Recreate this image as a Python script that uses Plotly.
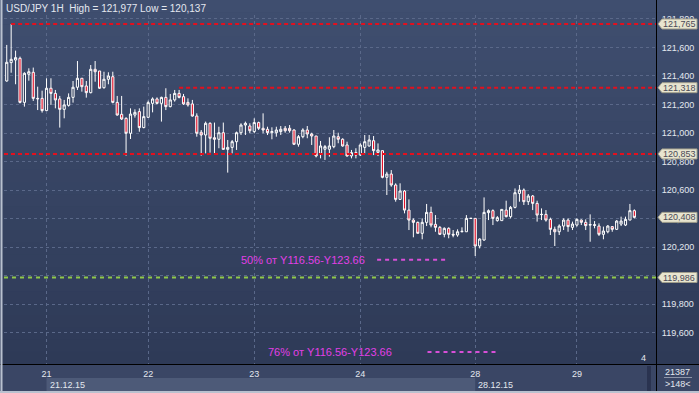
import plotly.graph_objects as go

# ---------------- data (USD/JPY 1H candles) ----------------
open_ = [121.220, 121.365, 121.494, 121.512, 121.524, 121.215, 121.412, 121.426, 121.243, 121.243,
         121.157, 121.314, 121.278, 121.239, 121.166, 121.194, 121.250, 121.321, 121.384, 121.330,
         121.283, 121.447, 121.435, 121.318, 121.377, 121.395, 121.215, 121.131, 121.103, 120.998,
         121.126, 121.150, 121.038, 121.110, 121.208, 121.239, 121.208, 121.250, 121.185, 121.232,
         121.278, 121.255, 121.215, 121.204, 121.119, 121.005, 120.986, 121.068, 120.967, 120.956,
         121.002, 120.885, 120.899, 120.939, 121.002, 121.056, 121.049, 121.010, 121.073, 121.033,
         121.026, 121.002, 121.002, 121.010, 121.033, 121.033, 121.021, 120.921, 120.974, 121.021,
         120.993, 120.979, 120.857, 120.886, 120.886, 120.904, 120.974, 120.956, 120.916, 120.839,
         120.862, 120.846, 120.899, 120.909, 120.946, 120.864, 120.876, 120.689, 120.712, 120.635,
         120.534, 120.593, 120.459, 120.389, 120.373, 120.296, 120.373, 120.443, 120.359, 120.338,
         120.289, 120.331, 120.289, 120.284, 120.307, 120.307, 120.401, 120.401, 120.207, 120.249,
         120.441, 120.455, 120.385, 120.385, 120.459, 120.413, 120.478, 120.576, 120.600, 120.518,
         120.558, 120.506, 120.427, 120.429, 120.394, 120.324, 120.307, 120.347, 120.389, 120.338,
         120.354, 120.389, 120.373, 120.354, 120.357, 120.347, 120.289, 120.307, 120.343, 120.324,
         120.361, 120.354, 120.389, 120.455]
high = [121.380, 121.618, 121.765, 121.578, 121.536, 121.426, 121.454, 121.459, 121.325, 121.297,
        121.384, 121.384, 121.302, 121.260, 121.232, 121.278, 121.365, 121.505, 121.384, 121.365,
        121.477, 121.505, 121.435, 121.430, 121.426, 121.430, 121.260, 121.260, 121.110, 121.173,
        121.166, 121.173, 121.185, 121.227, 121.250, 121.250, 121.255, 121.314, 121.274, 121.302,
        121.302, 121.274, 121.243, 121.232, 121.138, 121.021, 121.080, 121.075, 121.073, 121.044,
        121.073, 120.951, 120.951, 121.010, 121.068, 121.080, 121.068, 121.103, 121.080, 121.138,
        121.044, 121.040, 121.044, 121.049, 121.049, 121.056, 121.026, 120.986, 121.033, 121.049,
        121.002, 120.979, 120.944, 120.916, 120.970, 121.021, 121.002, 120.963, 120.939, 120.881,
        120.893, 120.928, 120.986, 120.986, 120.979, 120.927, 120.876, 120.728, 120.740, 120.647,
        120.647, 120.600, 120.534, 120.401, 120.378, 120.401, 120.502, 120.483, 120.424, 120.347,
        120.338, 120.338, 120.319, 120.324, 120.338, 120.424, 120.403, 120.401, 120.261, 120.548,
        120.464, 120.464, 120.417, 120.464, 120.525, 120.488, 120.611, 120.635, 120.611, 120.572,
        120.565, 120.525, 120.471, 120.459, 120.406, 120.343, 120.359, 120.401, 120.401, 120.378,
        120.401, 120.394, 120.394, 120.429, 120.382, 120.366, 120.343, 120.354, 120.347, 120.389,
        120.413, 120.413, 120.502, 120.464]
low = [121.210, 121.360, 121.423, 121.342, 121.208, 121.185, 121.367, 121.225, 121.161, 121.143,
       121.157, 121.197, 121.173, 121.038, 121.103, 121.185, 121.213, 121.302, 121.290, 121.248,
       121.278, 121.360, 121.309, 121.311, 121.342, 121.208, 121.122, 121.091, 120.841, 120.958,
       121.108, 121.009, 121.033, 121.108, 121.145, 121.201, 121.080, 121.161, 121.180, 121.220,
       121.243, 121.197, 121.185, 121.115, 120.974, 120.841, 120.857, 120.862, 120.857, 120.893,
       120.881, 120.722, 120.857, 120.881, 120.986, 120.986, 120.998, 120.998, 121.021, 120.998,
       120.986, 120.956, 120.974, 120.986, 121.002, 121.002, 120.916, 120.904, 120.963, 120.963,
       120.916, 120.829, 120.822, 120.811, 120.834, 120.893, 120.928, 120.904, 120.834, 120.822,
       120.822, 120.839, 120.857, 120.904, 120.845, 120.838, 120.682, 120.565, 120.623, 120.518,
       120.530, 120.436, 120.319, 120.268, 120.296, 120.254, 120.347, 120.338, 120.307, 120.284,
       120.268, 120.261, 120.268, 120.272, 120.303, 120.307, 120.399, 120.137, 120.190, 120.244,
       120.389, 120.354, 120.378, 120.385, 120.408, 120.401, 120.471, 120.518, 120.495, 120.495,
       120.459, 120.378, 120.389, 120.378, 120.284, 120.207, 120.284, 120.319, 120.307, 120.319,
       120.343, 120.354, 120.319, 120.237, 120.331, 120.277, 120.254, 120.296, 120.307, 120.319,
       120.347, 120.347, 120.389, 120.401]
close = [121.372, 121.496, 121.517, 121.529, 121.215, 121.419, 121.430, 121.243, 121.240, 121.157,
         121.314, 121.278, 121.232, 121.166, 121.197, 121.250, 121.321, 121.384, 121.325, 121.283,
         121.447, 121.430, 121.314, 121.377, 121.400, 121.215, 121.126, 121.098, 120.998, 121.133,
         121.145, 121.038, 121.115, 121.213, 121.239, 121.208, 121.250, 121.185, 121.232, 121.278,
         121.250, 121.204, 121.197, 121.119, 120.998, 120.986, 121.068, 120.963, 120.956, 121.002,
         120.885, 120.899, 120.939, 121.002, 121.056, 121.068, 121.016, 121.073, 121.033, 121.021,
         121.002, 121.010, 121.021, 121.026, 121.016, 121.016, 120.921, 120.974, 121.021, 120.993,
         120.979, 120.839, 120.909, 120.904, 120.909, 120.979, 120.956, 120.909, 120.839, 120.862,
         120.846, 120.916, 120.939, 120.951, 120.876, 120.881, 120.689, 120.712, 120.635, 120.534,
         120.593, 120.459, 120.389, 120.373, 120.296, 120.373, 120.443, 120.354, 120.338, 120.289,
         120.331, 120.289, 120.284, 120.307, 120.310, 120.401, 120.401, 120.207, 120.256, 120.443,
         120.455, 120.401, 120.406, 120.464, 120.413, 120.478, 120.581, 120.600, 120.518, 120.558,
         120.506, 120.424, 120.429, 120.389, 120.324, 120.307, 120.347, 120.389, 120.343, 120.361,
         120.394, 120.373, 120.350, 120.357, 120.352, 120.289, 120.312, 120.347, 120.324, 120.382,
         120.382, 120.394, 120.455, 120.408]

day_start_idx = [10, 33, 57, 81, 107, 130]
day_labels = ["21", "22", "23", "24", "28", "29"]
week_start_idx = [10, 107]
week_labels = ["21.12.15", "28.12.15"]

y_tick_vals = [121.8, 121.6, 121.4, 121.2, 121.0, 120.8, 120.6, 120.4, 120.2, 120.0, 119.8, 119.6]
y_tick_text = ["121,800", "121,600", "121,400", "121,200", "121,000", "120,800", "120,600",
               "120,400", "120,200", "120,000", "119,800", "119,600"]

level_vals = [121.765, 121.318, 120.853, 119.986]
level_start_idx = [2, 40, 0.38, 0.38]
level_colors = ["#e3101e", "#e3101e", "#e3101e", "#8fc84a"]
level_dash = ["4px,3px", "4px,3px", "4px,3px", "4px,4px"]

box_vals = [121.765, 121.318, 120.853, 120.408, 119.986]
box_text = ["121,765", "121,318", "120,853", "120,408", "119,986"]

fib_vals = [120.11, 119.463]
fib_text = ["50% от Y116.56-Y123.66", "76% от Y116.56-Y123.66"]
fib_text_end_idx = [82.5, 88.6]
fib_line_idx = [(84.8, 100.2), (96.2, 111.6)]

title_text = "USD/JPY 1H  High = 121,977 Low = 120,137"
counter_top = "21387"
counter_bottom = ">148<"
corner_mark = "4"

# ---------------- layout constants ----------------
W, H = 699, 393
ML, MR, MT, MB = 4, 43, 15, 29
PW, PH = W - ML - MR, H - MT - MB
X_RANGE = [0.38, 147.9]
Y_RANGE = [119.379, 121.828]
FONT = "Liberation Sans, Arial, sans-serif"
TXT = "#e4e8ef"


def px_x(px):
    return (px - ML) / PW


def px_y(py):
    return (H - MB - py) / PH


x_idx = list(range(len(open_)))

fig = go.Figure()
fig.add_trace(go.Candlestick(
    x=x_idx, open=open_, high=high, low=low, close=close,
    increasing=dict(line=dict(color="#ffffff", width=1), fillcolor="#34415e"),
    decreasing=dict(line=dict(color="#ffffff", width=1), fillcolor="#e3122a"),
    whiskerwidth=0, hoverinfo="skip", showlegend=False,
))

shapes = []
# background vertical gradient
top_c = (63, 78, 111)
bot_c = (46, 58, 87)
N = 30
y_top_px, y_bot_px = 0, H - MB
for k in range(N):
    t = k / (N - 1)
    c = tuple(int(round(top_c[i] + (bot_c[i] - top_c[i]) * t)) for i in range(3))
    y0 = y_top_px + (y_bot_px - y_top_px) * k / N
    y1 = y_top_px + (y_bot_px - y_top_px) * (k + 1) / N
    shapes.append(dict(type="rect", xref="paper", yref="paper", layer="below",
                       x0=px_x(0), x1=px_x(W), y0=px_y(y1 + 0.5), y1=px_y(y0),
                       fillcolor="rgb(%d,%d,%d)" % c, line=dict(width=0)))
# bottom axis area
shapes.append(dict(type="rect", xref="paper", yref="paper", layer="below",
                   x0=px_x(0), x1=px_x(W), y0=px_y(H), y1=px_y(H - MB),
                   fillcolor="#3a4665", line=dict(width=0)))
shapes.append(dict(type="rect", xref="x", yref="paper", layer="below",
                   x0=week_start_idx[0], x1=week_start_idx[1], y0=px_y(391), y1=px_y(378),
                   fillcolor="#4d5a78", line=dict(width=0)))
# scrollbar-like dark strip
shapes.append(dict(type="rect", xref="paper", yref="paper", layer="above",
                   x0=px_x(647), x1=px_x(651), y0=px_y(391), y1=px_y(366),
                   fillcolor="#2a3350", line=dict(width=0)))

# level lines
for v, x0, col, dsh in zip(level_vals, level_start_idx, level_colors, level_dash):
    shapes.append(dict(type="line", xref="x", yref="y", x0=x0, x1=X_RANGE[1], y0=v, y1=v,
                       line=dict(color=col, width=2, dash=dsh), layer="above"))
# fib short dashes
for v, (a, b) in zip(fib_vals, fib_line_idx):
    shapes.append(dict(type="line", xref="x", yref="y", x0=a, x1=b, y0=v, y1=v,
                       line=dict(color="#d84fd8", width=2, dash="4px,4px"), layer="above"))

# frame lines
shapes.append(dict(type="line", xref="paper", yref="paper", x0=px_x(0), x1=px_x(W),
                   y0=px_y(364.5), y1=px_y(364.5), line=dict(color="#000000", width=1), layer="above"))
shapes.append(dict(type="line", xref="paper", yref="paper", x0=px_x(656.5), x1=px_x(656.5),
                   y0=px_y(H), y1=px_y(0), line=dict(color="#000000", width=1), layer="above"))
shapes.append(dict(type="line", xref="paper", yref="paper", x0=px_x(1.5), x1=px_x(1.5),
                   y0=px_y(H), y1=px_y(0), line=dict(color="#b9c1cf", width=2), layer="above"))
shapes.append(dict(type="line", xref="paper", yref="paper", x0=px_x(0), x1=px_x(W),
                   y0=px_y(392), y1=px_y(392), line=dict(color="#b9c1cf", width=2), layer="above"))
shapes.append(dict(type="line", xref="paper", yref="paper", x0=px_x(664), x1=px_x(692),
                   y0=px_y(377.5), y1=px_y(377.5), line=dict(color="#8d95a8", width=1), layer="above"))

# price boxes on the right axis
for v in box_vals:
    shapes.append(dict(type="path", xref="paper", yref="y", xsizemode="pixel", ysizemode="pixel",
                       xanchor=1, yanchor=v, path="M 2 0 L 6 -5 L 41 -5 L 41 5 L 6 5 Z",
                       fillcolor="#e8e5cf", line=dict(color="#a09e8c", width=1), layer="above"))

annotations = []
for v, t in zip(box_vals, box_text):
    annotations.append(dict(xref="paper", x=1, xanchor="left", xshift=5, yref="y", y=v,
                            yanchor="middle", text=t, showarrow=False,
                            font=dict(family=FONT, size=9, color="#4a4a56")))
for v, t, xe in zip(fib_vals, fib_text, fib_text_end_idx):
    annotations.append(dict(xref="x", x=xe, xanchor="right", yref="y", y=v, yanchor="middle",
                            text=t, showarrow=False, font=dict(family=FONT, size=11, color="#e23fe6")))
annotations.append(dict(xref="paper", x=0, xanchor="left", yref="paper", y=1, yanchor="bottom",
                        yshift=-1, text=title_text, showarrow=False,
                        font=dict(family=FONT, size=10, color=TXT)))
for xi, t in zip(week_start_idx, week_labels):
    annotations.append(dict(xref="x", x=xi, xanchor="left", xshift=1, yref="paper", y=px_y(384.5),
                            yanchor="middle", text=t, showarrow=False,
                            font=dict(family=FONT, size=9, color=TXT)))
annotations.append(dict(xref="paper", x=px_x(677.5), xanchor="center", yref="paper", y=px_y(371.5),
                        yanchor="middle", text=counter_top, showarrow=False,
                        font=dict(family=FONT, size=9, color=TXT)))
annotations.append(dict(xref="paper", x=px_x(677.5), xanchor="center", yref="paper", y=px_y(384),
                        yanchor="middle", text=counter_bottom, showarrow=False,
                        font=dict(family=FONT, size=9, color=TXT)))
annotations.append(dict(xref="paper", x=px_x(643), xanchor="center", yref="paper", y=px_y(358),
                        yanchor="middle", text=corner_mark, showarrow=False,
                        font=dict(family=FONT, size=9, color=TXT)))

fig.update_layout(
    width=W, height=H,
    margin=dict(l=ML, r=MR, t=MT, b=MB, pad=0),
    paper_bgcolor="#36435f",
    plot_bgcolor="rgba(0,0,0,0)",
    showlegend=False,
    boxgap=0.3,
    shapes=shapes,
    annotations=annotations,
    xaxis=dict(range=X_RANGE, tickvals=day_start_idx, ticktext=day_labels,
               showgrid=True, gridcolor="#5a6889", griddash="3px,3px", gridwidth=1,
               zeroline=False, showline=False, ticks="outside", ticklen=1,
               tickcolor="rgba(0,0,0,0)", tickfont=dict(family=FONT, size=9, color=TXT),
               rangeslider=dict(visible=False), fixedrange=True),
    yaxis=dict(range=Y_RANGE, side="right", tickvals=y_tick_vals, ticktext=y_tick_text,
               showgrid=True, gridcolor="#5a6889", griddash="3px,3px", gridwidth=1,
               zeroline=False, showline=False, ticks="outside", ticklen=3,
               tickcolor="rgba(0,0,0,0)", tickfont=dict(family=FONT, size=9, color=TXT),
               fixedrange=True),
)

fig.write_html("out.html", config={"displayModeBar": False},
               post_script="document.body.style.margin='0';document.body.style.overflow='hidden';")
